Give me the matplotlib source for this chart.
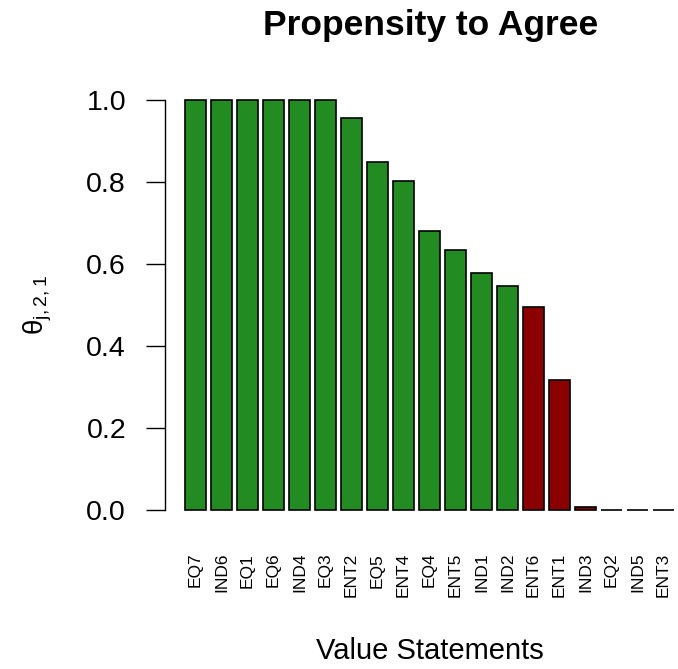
import matplotlib.pyplot as plt

plt.rcParams['font.family'] = ['Liberation Sans', 'DejaVu Sans']
plt.rcParams['mathtext.fontset'] = 'custom'
plt.rcParams['mathtext.rm'] = 'Liberation Sans'
plt.rcParams['mathtext.it'] = 'Liberation Sans:italic'

# Datos
enunciados = ["EQ7", "IND6", "EQ1", "EQ6", "IND4", "EQ3", "ENT2", "EQ5", "ENT4", "EQ4",
              "ENT5", "IND1", "IND2", "ENT6", "ENT1", "IND3", "EQ2", "IND5", "ENT3"]
theta = [1.0, 1.0, 1.0, 1.0, 1.0, 1.0, 0.955, 0.848, 0.802, 0.680,
         0.634, 0.578, 0.546, 0.495, 0.317, 0.007, 0.0, 0.0, 0.0]

colores = ["#228B22" if v >= 0.5 else "#8B0000" for v in theta]

fig = plt.figure(figsize=(6.78, 6.69), dpi=100)
# region de trazado estilo R (se sale un poco por la derecha)
ax = fig.add_axes([165 / 678, (669 - 526.4) / 669, 529 / 678, 442.8 / 669])

posiciones = [0.7 + 1.2 * i for i in range(len(theta))]
ax.bar(posiciones, theta, width=1.0, color=colores, edgecolor="black", linewidth=1.2)

ax.set_xlim(-0.704, 23.704)
ax.set_ylim(-0.04, 1.04)

for s in ["top", "right", "bottom"]:
    ax.spines[s].set_visible(False)
ax.spines["left"].set_bounds(0, 1)
ax.spines["left"].set_linewidth(1.0)

ax.set_yticks([0, 0.2, 0.4, 0.6, 0.8, 1.0])
ax.set_yticklabels(["0.0", "0.2", "0.4", "0.6", "0.8", "1.0"], fontsize=20.5)
ax.tick_params(axis="y", length=14, width=1.0, pad=14)

ax.set_xticks(posiciones)
ax.set_xticklabels(enunciados, rotation=90, fontsize=12.5)
ax.tick_params(axis="x", length=0, pad=19)

ax.set_ylabel(r"$\mathrm{\theta_{j,2,1}}$", fontsize=20, labelpad=23)
ax.set_xlabel("Value Statements", fontsize=21, labelpad=29)

fig.text(431 / 678, 1 - 35 / 669, "Propensity to Agree", ha="center", va="baseline",
         fontsize=25.5, fontweight="bold")

fig.savefig("out.png", dpi=100)
